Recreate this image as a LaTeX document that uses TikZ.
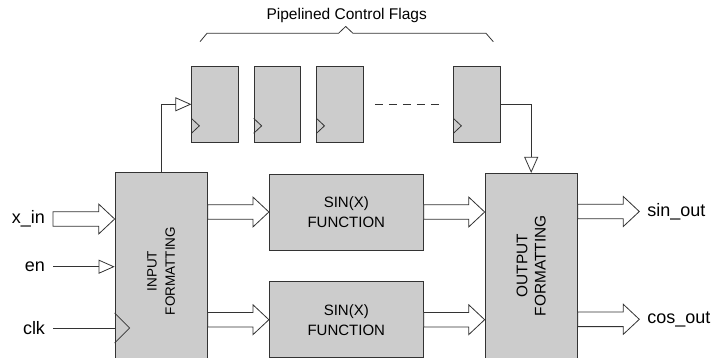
\documentclass[tikz,border=0pt]{standalone}
\usepackage{fontspec}
\setmainfont{Liberation Sans}
\usetikzlibrary{positioning, arrows.meta, calc}

\definecolor{blockgray}{RGB}{204,204,204}

% seta larga (barramento) de #1 ate #2
\newcommand{\busarrow}[2]{%
  \draw[bus] ($(#1)+(0,-7.3)$) -- ($(#2)+(-16,-7.3)$) -- ++(0,-7.7) -- (#2)
    -- ($(#2)+(-16,15)$) -- ++(0,-7.7) -- ($(#1)+(0,7.3)$) -- cycle;}

\begin{document}
\begin{tikzpicture}[
    x=1pt, y=-1pt,
    >={Triangle[open, length=16pt, width=14pt]},
    line width=0.8pt,
    block/.style={draw=black!80, fill=blockgray, inner sep=0pt},
    flop/.style={block, minimum width=46.5pt, minimum height=76.7pt},
    sigtext/.style={font=\fontsize{18}{20}\selectfont, inner sep=0pt, outer sep=8pt},
    wire/.style={draw=black!80},
    bus/.style={draw=black!80, fill=white}
]
    \clip (0,0) rectangle (728,357);

    % --- Blocos principais ---
    \node[block, minimum width=92.3pt, minimum height=196.6pt] (inbox) at (161.2,271) {};
    \node[rotate=90, align=center, font=\fontsize{13.5}{18.3}\selectfont] (inlabel) at (inbox.center) {INPUT\\FORMATTING};

    \node[block, minimum width=154pt, minimum height=76pt, align=center,
          font=\fontsize{15}{20}\selectfont] (s1) at (346.3,212) {SIN(X)\\FUNCTION};
    \node[block, minimum width=154pt, minimum height=76pt, align=center,
          font=\fontsize{15}{20}\selectfont] (s2) at (346.3,319.7) {SIN(X)\\FUNCTION};

    \node[block, minimum width=92.3pt, minimum height=185pt] (outbox) at (531.2,265.8) {};
    \node[rotate=90, align=center, font=\fontsize{15.4}{18.3}\selectfont] (outlabel) at (outbox.center) {OUTPUT\\FORMATTING};

    % --- Flip-flops de controle ---
    \node[flop] (f1) at (215,104.3) {};
    \node[flop, right=15pt of f1] (f2) {};
    \node[flop, right=15.5pt of f2] (f3) {};
    \node[flop] (f4) at (477,104.3) {};
    \foreach \f in {f1,f2,f3,f4}
        \draw[wire] ($(\f.south west)+(0,-24.7)$) -- ++(8,7.5) -- ++(-8,7.5);
    \draw[wire, dash pattern=on 8pt off 6pt] ($(f3.east)+(11,0)$) -- ($(f4.west)+(-10,0)$);

    % --- Chave e titulo ---
    \draw[wire] (200,41.7) -- (207,33.3) -- (338.5,33.3) -- (345.7,26.5)
        -- (353,33.3) -- (486,33.3) -- (493.3,41.7);
    \node[font=\fontsize{15.5}{18}\selectfont] (flags) at (346.7,15) {Pipelined Control Flags};

    % --- Entradas ---
    \node[sigtext, anchor=east] (xin) at (53,219) {x\_in};
    \node[sigtext, anchor=east] (en) at (53,266.7) {en};
    \node[sigtext, anchor=east] (clk) at (53,328) {clk};

    \coordinate (xinend) at (inbox.west |- xin.east);
    \busarrow{xin.east}{xinend}
    \draw[wire, ->] (en) -- (inbox.west |- en);
    \draw[wire] (clk) -- (inbox.west |- clk);
    \draw[wire] ($(inbox.west |- clk)+(0,-15)$) -- ++(15,15) -- ++(-15,15);

    % --- Controle ---
    \draw[wire, ->] (inbox.north) |- (f1.west);
    \draw[wire, ->] (f4.east) -| (outbox.north);

    % --- Barramentos internos ---
    \coordinate (a1) at (inbox.east |- s1.west);
    \coordinate (a2) at (inbox.east |- s2.west);
    \coordinate (b1) at (outbox.west |- s1.east);
    \coordinate (b2) at (outbox.west |- s2.east);
    \busarrow{a1}{s1.west}
    \busarrow{a2}{s2.west}
    \busarrow{s1.east}{b1}
    \busarrow{s2.east}{b2}

    % --- Saidas ---
    \node[sigtext, anchor=west] (sinout) at (639.3,211.5) {sin\_out};
    \node[sigtext, anchor=west] (cosout) at (639.3,319.3) {cos\_out};
    \coordinate (c1) at (outbox.east |- sinout.west);
    \coordinate (c2) at (outbox.east |- cosout.west);
    \busarrow{c1}{sinout.west}
    \busarrow{c2}{cosout.west}

\end{tikzpicture}
\end{document}
